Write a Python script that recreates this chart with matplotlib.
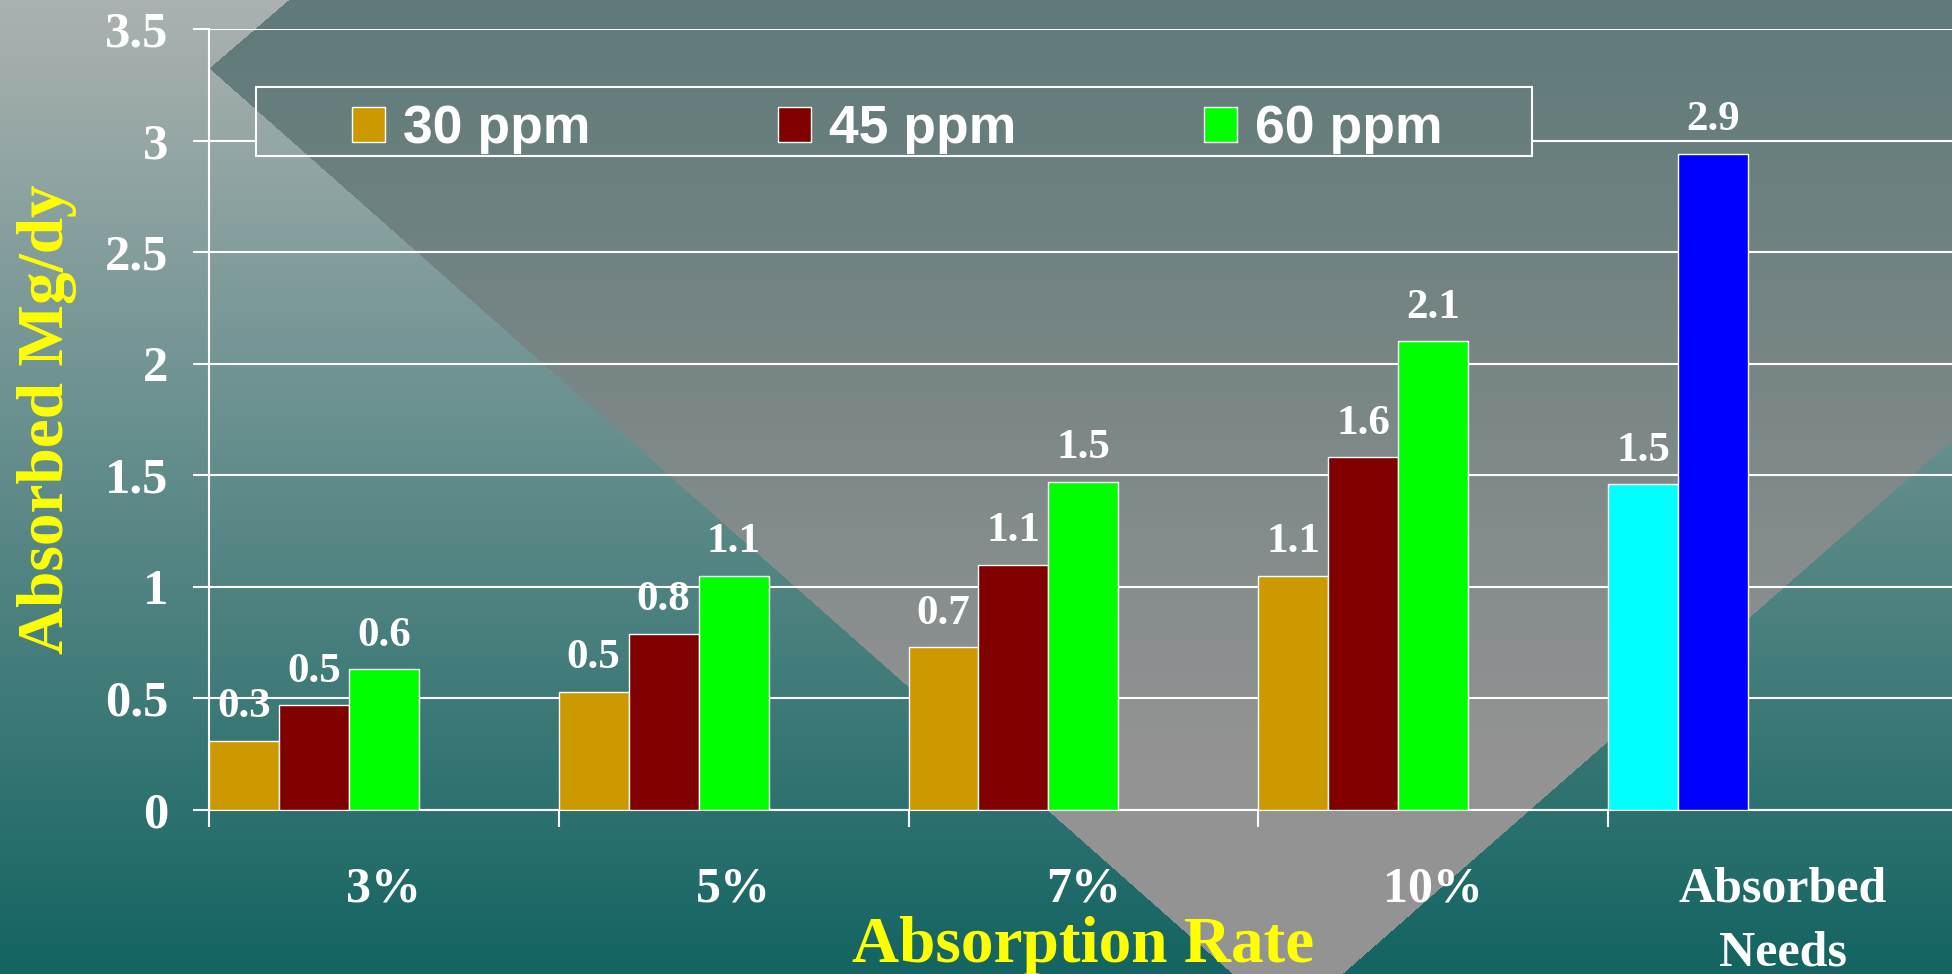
import numpy as np
import matplotlib
matplotlib.use("Agg")
import matplotlib.pyplot as plt
from matplotlib.patches import Rectangle

# data
categories = ["3%", "5%", "7%", "10%", "Absorbed\nNeeds"]
series_names = ["30 ppm", "45 ppm", "60 ppm"]
ppm30 = [0.31, 0.53, 0.73, 1.05]
ppm45 = [0.47, 0.79, 1.10, 1.58]
ppm60 = [0.63, 1.05, 1.47, 2.10]
ppm30_labels = ["0.3", "0.5", "0.7", "1.1"]
ppm45_labels = ["0.5", "0.8", "1.1", "1.6"]
ppm60_labels = ["0.6", "1.1", "1.5", "2.1"]
needs = [1.46, 2.94]
needs_labels = ["1.5", "2.9"]
y_ticks = [0, 0.5, 1, 1.5, 2, 2.5, 3, 3.5]
y_tick_labels = ["0", "0.5", "1", "1.5", "2", "2.5", "3", "3.5"]

W, H = 1952, 974
plt.rcParams["font.family"] = ["Liberation Serif", "DejaVu Serif"]
plt.rcParams["font.weight"] = "bold"

BG_TOP = np.array([171, 178, 177]) / 255
BG_BOT = np.array([19, 100, 98]) / 255
DM_TOP = np.array([95, 122, 121]) / 255
DM_BOT = np.array([147, 147, 147]) / 255


def background_rgb():
    # vertical gradient plus a lighter tilted "diamond" shape (slide template)
    yy, xx = np.mgrid[0:H, 0:W]
    t = (yy / (H - 1))[..., None]
    base = BG_TOP + (BG_BOT - BG_TOP) * t
    f = np.clip(yy / 760, 0, 1)[..., None]
    dm = DM_TOP + (DM_BOT - DM_TOP) * f
    upper = 68 - 0.86 * (xx - 209)
    left_edge = 68 + 0.885 * (xx - 209)
    right_edge = 1022 - 0.876 * (xx - 1287)
    inside = (yy > upper) & (yy < left_edge) & (yy < right_edge)
    return np.where(inside[..., None], dm, base)


fig = plt.figure(figsize=(W / 100, H / 100), dpi=100)
img = background_rgb()

bg = fig.add_axes([0, 0, 1, 1], zorder=-10)
bg.imshow(img, extent=(0, W, H, 0), aspect="auto", interpolation="nearest")
bg.set_xlim(0, W)
bg.set_ylim(H, 0)
bg.axis("off")

# main chart
ax = fig.add_axes([209 / W, 164 / H, (W - 209) / W, 781 / H])
ax.patch.set_alpha(0)

x = np.arange(len(ppm30))
w = 0.2
bar_kw = dict(edgecolor="white", linewidth=1.0, zorder=3)
b1 = ax.bar(x - 0.4, ppm30, w, color="#cc9900", **bar_kw)
b2 = ax.bar(x - 0.2, ppm45, w, color="#800000", **bar_kw)
b3 = ax.bar(x, ppm60, w, color="#00ff00", **bar_kw)
b4 = ax.bar([len(ppm30) - 0.4, len(ppm30) - 0.2], needs, w,
            color=["#00ffff", "#0000ff"], **bar_kw)

lab_kw = dict(padding=10.5, color="white", fontsize=31, fontweight="bold", zorder=6)
ax.bar_label(b1, labels=ppm30_labels, **lab_kw)
ax.bar_label(b2, labels=ppm45_labels, **lab_kw)
ax.bar_label(b3, labels=ppm60_labels, **lab_kw)
ax.bar_label(b4, labels=needs_labels, **lab_kw)

ax.set_xlim(-0.5, (W - 209) / 349.75 - 0.5)
ax.set_ylim(0, 3.5)
ax.set_yticks(y_ticks, labels=y_tick_labels)
ax.set_xticks(np.arange(len(categories)), labels=categories)
ax.set_xticks(np.arange(len(categories)) - 0.5, minor=True)

ax.tick_params(axis="x", which="major", length=0, pad=41, labelsize=36, labelcolor="white")
ax.tick_params(axis="x", which="minor", length=12, width=1.5, color="white", direction="out")
ax.tick_params(axis="y", length=11.5, width=1.5, color="white", direction="out",
               pad=18, labelsize=36.5, labelcolor="white")
for lab in ax.get_xticklabels():
    lab.set_linespacing(1.5)

ax.yaxis.grid(True, color="white", linewidth=1.5)
ax.set_axisbelow(True)
for side in ["top", "right"]:
    ax.spines[side].set_visible(False)
for side in ["left", "bottom"]:
    ax.spines[side].set_color("white")
    ax.spines[side].set_linewidth(1.5)

ax.set_xlabel("Absorption Rate", color="#ffff00", fontsize=47, fontweight="bold")
ax.xaxis.set_label_coords((1083 - 209) / (W - 209), (810 - 962) / 781)
ax.xaxis.label.set_va("baseline")
ax.set_ylabel("Absorbed Mg/dy", color="#ffff00", fontsize=47, fontweight="bold")
ax.yaxis.set_label_coords((63 - 209) / (W - 209), (810 - 419) / 781)
ax.yaxis.label.set_va("baseline")

# legend box: repaint the background inside it so the gridlines are hidden
bx0, bx1, by0, by1 = 256, 1532, 87, 156
ov = fig.add_axes([0, 0, 1, 1], zorder=1)
ov.imshow(img[by0:by1, bx0:bx1], extent=(bx0, bx1, by1, by0), aspect="auto",
          interpolation="nearest")
ov.add_patch(Rectangle((bx0, by0), bx1 - bx0, by1 - by0, facecolor="none",
                       edgecolor="white", linewidth=1.5))
ov.set_xlim(0, W)
ov.set_ylim(H, 0)
ov.axis("off")

leg = fig.legend(handles=[b1, b2, b3], labels=series_names, loc="center left",
                 bbox_to_anchor=(352 / W, 1 - 129 / H), ncol=3, frameon=False,
                 borderpad=0, borderaxespad=0, handlelength=0.62, handleheight=0.62,
                 handletextpad=0.34, columnspacing=3.5, labelcolor="white",
                 prop=dict(family="Liberation Sans", weight="bold", size=38.5))
leg.set_zorder(10)

fig.savefig("out.png", dpi=100)
